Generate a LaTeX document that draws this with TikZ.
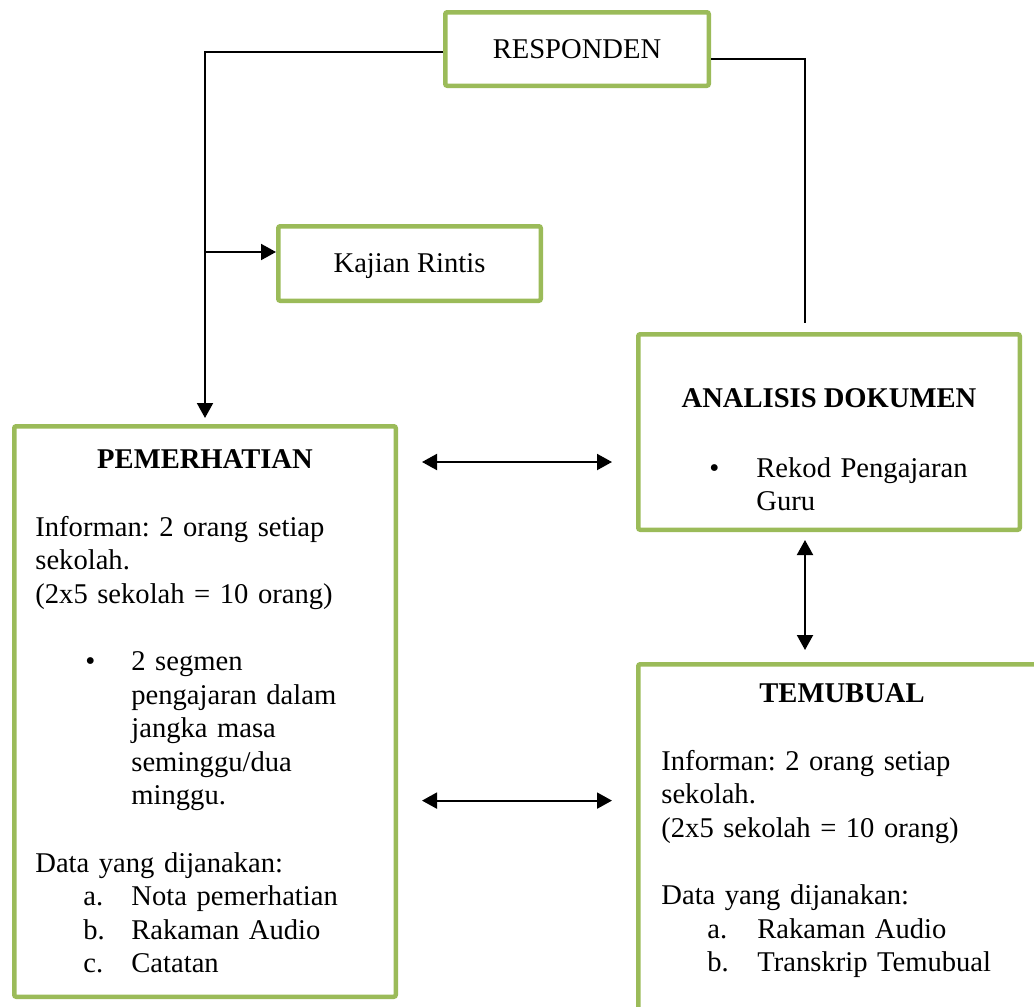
\documentclass[tikz,border=0pt]{standalone}
\usepackage{fontspec}
\setmainfont{Liberation Serif}
\usepackage{tikz}
\usetikzlibrary{positioning,arrows.meta}
\definecolor{boxgreen}{RGB}{155,187,89}
\frenchspacing

\begin{document}
\begin{tikzpicture}[x = .5pt, y = -.5pt, >={Triangle[length = 7.5pt, width = 8pt]},
  box/.style = {draw = boxgreen, line width = 2.25pt, rounded corners = 1pt, inner sep = 0pt, text depth = 0pt},
  txt/.style = {font = \fontsize{14.3}{16.8}\selectfont, inner sep = 0pt},
  ttl/.style = {font = \fontsize{14.3}{16.8}\selectfont\bfseries, inner sep = 0pt, anchor = base},
  body/.style = {txt, anchor = base west, align = left, text width = 180pt},
  link/.style = {line width = 1pt}]
\path[use as bounding box, clip] (0,0) rectangle (1034,1007);
% boxes
\node[box, txt, minimum width = 131.75pt, minimum height = 36.75pt] (resp) at (577,49) {RESPONDEN};
\node[box, txt, minimum width = 131.25pt, minimum height = 37.25pt] (kajian) at (409.5,263.5) {Kajian Rintis};
\node[box, minimum width = 190.75pt, minimum height = 285.25pt] (pemer) at (205,711.5) {};
\node[box, minimum width = 190.75pt, minimum height = 97.75pt] (anal) at (829,432) {};
\node[box, minimum width = 203.75pt, minimum height = 201.75pt] (temu) at (842,866) {};
% box contents
\node[ttl] (pemertitle) at (205,468) {PEMERHATIAN};
\node[body] (pemertext) at (35,536) {Informan: 2 orang setiap\\
  sekolah.\\
  (2x5 sekolah = 10 orang)\\[16.8pt]
  \hspace*{25pt}\makebox[23pt][l]{\textbullet}2 segmen\\
  \hspace*{48pt}pengajaran dalam\\
  \hspace*{48pt}jangka masa\\
  \hspace*{48pt}seminggu/dua\\
  \hspace*{48pt}minggu.\\[16.8pt]
  Data yang dijanakan:\\
  \hspace*{24pt}\makebox[24pt][l]{a.}Nota pemerhatian\\
  \hspace*{24pt}\makebox[24pt][l]{b.}Rakaman Audio\\
  \hspace*{24pt}\makebox[24pt][l]{c.}Catatan};
\node[ttl] (analtitle) at (829,407) {ANALISIS DOKUMEN};
\node[body] (analtext) at (709,477) {\makebox[23.5pt][l]{\textbullet}Rekod Pengajaran\\
  \hspace*{23.5pt}Guru};
\node[ttl] (temutitle) at (842,702) {TEMUBUAL};
\node[body] (temutext) at (661,770) {Informan: 2 orang setiap\\
  sekolah.\\
  (2x5 sekolah = 10 orang)\\[16.8pt]
  Data yang dijanakan:\\
  \hspace*{23pt}\makebox[25pt][l]{a.}Rakaman Audio\\
  \hspace*{23pt}\makebox[25pt][l]{b.}Transkrip Temubual};
% connectors
\draw[link, ->, shorten >= 3pt] ([yshift = -1.5pt]resp.west) -| (pemer.north);
\coordinate (branch) at (pemer.north |- kajian.west);
\draw[link, ->] ([yshift = 5.75pt]branch) -- ([yshift = 5.75pt]kajian.west);
\draw[line width = .8pt, shorten >= 4.5pt] ([yshift = -5pt]resp.east) -| ([xshift = -12pt]anal.north);
\coordinate (upper) at ([yshift = -19pt]pemer.north east);
\coordinate (lower) at ([yshift = -188.3pt]pemer.north east);
\draw[link, <->, shorten <= 12pt, shorten >= 12pt] (upper) -- (upper -| anal.west);
\draw[link, <->, shorten <= 12pt, shorten >= 12pt] (lower) -- (lower -| temu.west);
\draw[link, <->, shorten <= 4pt, shorten >= 6pt] ([xshift = -12pt]anal.south) -- ([xshift = -12pt]anal.south |- temu.north);
\end{tikzpicture}
\end{document}
